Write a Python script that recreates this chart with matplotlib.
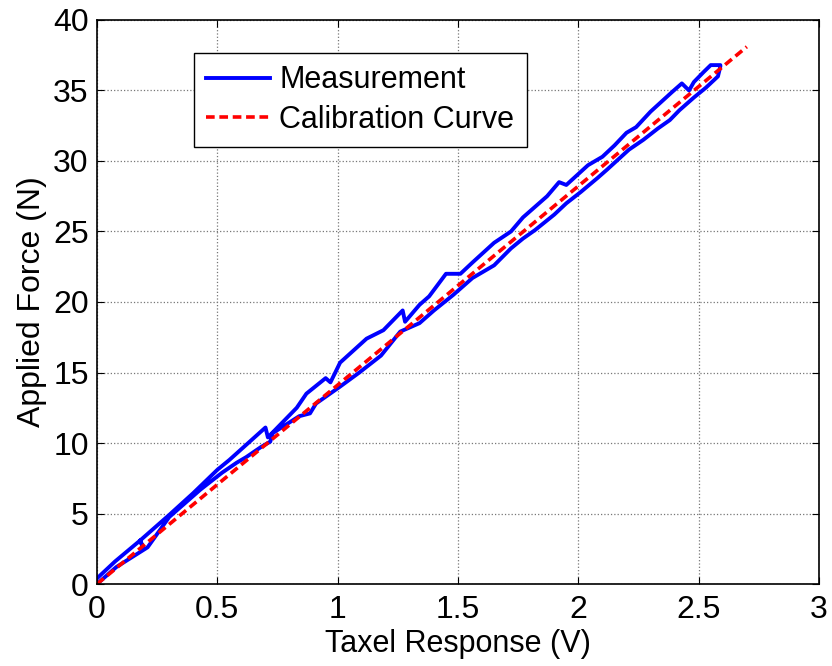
import matplotlib
matplotlib.use("Agg")
import matplotlib.pyplot as plt

plt.rcParams['font.family'] = ['Liberation Sans', 'DejaVu Sans']

# loading branch (upper)
load_v = [0.0, 0.075, 0.18, 0.19, 0.18, 0.30, 0.40, 0.50, 0.55, 0.70, 0.71, 0.83, 0.87, 0.95, 0.97,
          1.01, 1.12, 1.19, 1.27, 1.28, 1.34, 1.38, 1.45, 1.51, 1.56, 1.65, 1.72, 1.77, 1.87,
          1.92, 1.95, 2.04, 2.10, 2.15, 2.20, 2.24, 2.30, 2.39, 2.43, 2.46, 2.48, 2.52, 2.55, 2.59]
load_f = [0.4, 1.6, 3.1, 2.6, 3.1, 4.9, 6.45, 8.1, 8.8, 11.1, 10.4, 12.5, 13.5, 14.6, 14.3,
          15.7, 17.4, 18.0, 19.4, 18.6, 19.8, 20.4, 22.0, 22.0, 22.8, 24.2, 25.0, 26.0, 27.5,
          28.5, 28.3, 29.7, 30.3, 31.1, 32.0, 32.4, 33.5, 34.9, 35.5, 35.0, 35.6, 36.3, 36.8, 36.8]

# unloading branch (lower)
unload_v = [2.59, 2.58, 2.53, 2.48, 2.46, 2.42, 2.38, 2.33, 2.27, 2.21, 2.12, 2.08, 2.01, 1.95,
            1.90, 1.82, 1.77, 1.72, 1.65, 1.56, 1.48, 1.40, 1.34, 1.26, 1.18, 1.09, 1.01, 0.91,
            0.885, 0.84, 0.73, 0.72, 0.68, 0.62, 0.58, 0.52, 0.43, 0.30, 0.21, 0.08, 0.0]
unload_f = [36.7, 36.0, 35.2, 34.5, 34.2, 33.6, 32.9, 32.3, 31.5, 30.8, 29.4, 28.8, 27.8, 27.0,
            26.2, 25.1, 24.5, 23.8, 22.6, 21.7, 20.5, 19.4, 18.5, 17.9, 16.2, 15.0, 14.0, 12.8,
            12.1, 11.9, 10.7, 10.1, 9.7, 9.0, 8.6, 7.9, 6.7, 4.75, 2.6, 1.2, 0.0]

# calibration line
cal_v = [0.0, 2.70]
cal_f = [0.0, 38.1]

fs = 23

fig = plt.figure(figsize=(8.32, 6.66), dpi=100)
ax = fig.add_axes([0.1166, 0.1231, 0.8678, 0.8469])

ax.plot(load_v + unload_v, load_f + unload_f, color='#0000ff', lw=2.8, solid_joinstyle='round',
        label='Measurement')
ax.plot(cal_v, cal_f, color='#ff0000', lw=2.6, ls=(0, (2.4, 1.3)), label='Calibration Curve')

ax.set_xlim(0, 3)
ax.set_ylim(0, 40)
ax.set_xticks([0, 0.5, 1, 1.5, 2, 2.5, 3])
ax.set_xticklabels(['0', '0.5', '1', '1.5', '2', '2.5', '3'])
ax.set_yticks(range(0, 41, 5))
ax.grid(True, color='#777777', ls=':', lw=0.9)
ax.tick_params(direction='in', top=True, right=True, length=5, labelsize=fs)
ax.tick_params(axis='x', pad=8)
ax.tick_params(axis='y', pad=6)
for s in ax.spines.values():
    s.set_linewidth(1.2)

ax.set_xlabel('Taxel Response (V)', fontsize=22, labelpad=3)
ax.set_ylabel('Applied Force (N)', fontsize=fs, labelpad=4)

leg = ax.legend(loc='upper left', bbox_to_anchor=(0.134, 0.941), fontsize=22, fancybox=False,
                framealpha=1, edgecolor='black', handlelength=2.1, handletextpad=0.3,
                borderpad=0.4, labelspacing=0.3, borderaxespad=0)
leg.get_frame().set_linewidth(1.0)

fig.savefig('out.png', dpi=100)
